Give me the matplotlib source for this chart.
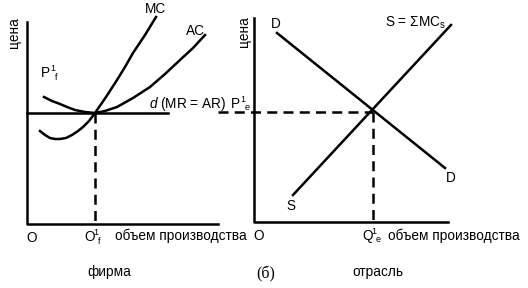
import matplotlib.pyplot as plt

plt.rcParams['font.family'] = ['Liberation Sans', 'DejaVu Sans']
plt.rcParams['mathtext.fontset'] = 'custom'
plt.rcParams['mathtext.rm'] = 'Liberation Sans'
plt.rcParams['mathtext.it'] = 'Liberation Sans:italic'

# координаты в пикселях картинки (y вниз)
# фирма
mc_x = [40, 45, 50, 55, 60, 66, 72, 78, 83, 89, 95, 106, 117, 125, 133, 145, 156]
mc_y = [131, 135, 138, 139, 139, 138, 135, 131, 127, 121, 113, 97, 80, 67, 53, 35, 17]
ac_x = [44, 52, 60, 67, 75, 85, 95, 105, 117, 133, 150, 165, 180, 193, 205]
ac_y = [97, 101, 104, 107, 110, 112, 113, 111, 107, 98, 87, 74, 60, 48, 35]
price_x = [27, 168]
price_y = [113, 113]
qf = 95

# отрасль
d_x = [277, 445]
d_y = [33, 168]
s_x = [293, 451]
s_y = [195, 25]
qe = 373
pe = 112

fig = plt.figure(figsize=(5.28, 2.88), dpi=100)
ax = fig.add_axes([0, 0, 1, 1])
ax.set_xlim(0, 528)
ax.set_ylim(288, 0)
ax.axis('off')

lw = 1.8
k = 'black'
dash = (0, (4, 2.5))
# оси
ax.plot([27, 27, 218], [22, 224, 224], color=k, lw=lw)
ax.plot([254, 254, 448], [18, 222, 222], color=k, lw=lw)

ax.plot(mc_x, mc_y, color=k, lw=lw)
ax.plot(ac_x, ac_y, color=k, lw=lw)
ax.plot(price_x, price_y, color=k, lw=lw)
ax.plot([qf, qf], [113, 224], color=k, lw=lw, ls=dash)

ax.plot(d_x, d_y, color=k, lw=lw)
ax.plot(s_x, s_y, color=k, lw=lw)
ax.plot([218, qe], [pe, pe], color=k, lw=lw, ls=dash)
ax.plot([qe, qe], [pe, 222], color=k, lw=lw, ls=dash)

fs = 9.8
small = 6.5


def index_label(x, y, main, sub):
    # буква с верхним индексом 1 и нижним индексом (x - левый край, y - базовая линия)
    ax.text(x, y, main, fontsize=fs, ha='left', va='baseline')
    ax.text(x + 9.5, y - 6, '1', fontsize=small, ha='left', va='baseline')
    ax.text(x + 14, y + 2.5, sub, fontsize=small, ha='left', va='baseline')


ax.text(155, 9, 'MC', fontsize=fs, ha='center', va='center')
ax.text(195, 31, 'AC', fontsize=fs, ha='center', va='center')
index_label(41, 77, 'P', 'f')
ax.text(149, 104, r'$d$ (MR = AR)', fontsize=fs, ha='left', va='center')
index_label(231, 108, 'P', 'e')
ax.text(14, 33, 'цена', fontsize=fs, rotation=90, ha='center', va='center')
ax.text(244, 32, 'цена', fontsize=fs, rotation=90, ha='center', va='center')
ax.text(32, 238, 'O', fontsize=fs, ha='center', va='center')
index_label(84, 241, 'O', 'f')
ax.text(115, 236, 'объем производства', fontsize=fs, ha='left', va='center')
ax.text(109, 272, 'фирма', fontsize=fs, ha='center', va='center')

ax.text(276, 24, 'D', fontsize=fs, ha='center', va='center')
ax.text(385, 23, r'S = $\Sigma$MC$_{\mathrm{s}}$', fontsize=fs, ha='left', va='center')
ax.text(451, 178, 'D', fontsize=fs, ha='center', va='center')
ax.text(291, 206, 'S', fontsize=fs, ha='center', va='center')
ax.text(259, 236, 'O', fontsize=fs, ha='center', va='center')
index_label(362, 240, 'Q', 'e')
ax.text(388, 236, 'объем производства', fontsize=fs, ha='left', va='center')
ax.text(266, 274, '(б)', fontsize=11.5, family='Liberation Serif', ha='center', va='center')
ax.text(378, 272, 'отрасль', fontsize=fs, ha='center', va='center')

fig.savefig('out.png', dpi=100)
